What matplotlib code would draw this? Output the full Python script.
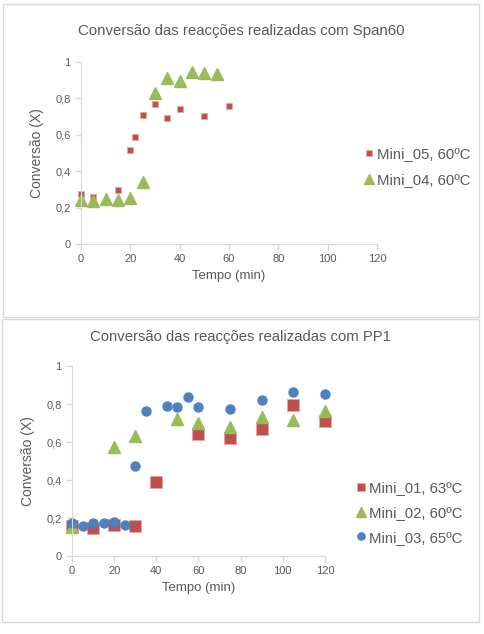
import matplotlib
matplotlib.use("Agg")
import matplotlib.pyplot as plt
from matplotlib.patches import Rectangle
from matplotlib.ticker import FuncFormatter

plt.rcParams['font.family'] = ['Liberation Sans', 'DejaVu Sans']

# chart 1 - Span60
t_m05 = [0, 5, 15, 20, 22, 25, 30, 35, 40, 50, 60]
x_m05 = [0.274, 0.258, 0.294, 0.517, 0.59, 0.709, 0.768, 0.693, 0.74, 0.704, 0.76]
t_m04 = [0, 5, 10, 15, 20, 25, 30, 35, 40, 45, 50, 55]
x_m04 = [0.24, 0.238, 0.247, 0.243, 0.254, 0.338, 0.83, 0.91, 0.894, 0.943, 0.94, 0.932]

# chart 2 - PP1
t_m01 = [0, 10, 20, 30, 40, 60, 75, 90, 105, 120]
x_m01 = [0.159, 0.148, 0.165, 0.157, 0.389, 0.643, 0.622, 0.671, 0.793, 0.709]
t_m02 = [0, 20, 30, 50, 60, 75, 90, 105, 120]
x_m02 = [0.154, 0.574, 0.634, 0.72, 0.70, 0.68, 0.729, 0.715, 0.764]
t_m03 = [0, 5, 10, 15, 20, 25, 30, 35, 45, 50, 55, 60, 75, 90, 105, 120]
x_m03 = [0.175, 0.156, 0.172, 0.174, 0.177, 0.163, 0.476, 0.765, 0.79, 0.785, 0.835, 0.785,
         0.772, 0.82, 0.862, 0.855]

RED = '#C0504D'
GREEN = '#9BBB59'
BLUE = '#4F81BD'
GREY = '#595959'
AXC = '#D9D9D9'

W, H = 484, 634
fig = plt.figure(figsize=(W / 100, H / 100), dpi=100)

# chart borders
fig.add_artist(Rectangle((3 / W, 1 - 317 / H), 476 / W, 313 / H, transform=fig.transFigure,
                         fill=False, edgecolor=AXC, lw=1))
fig.add_artist(Rectangle((2 / W, 1 - 622 / H), 477 / W, 303 / H, transform=fig.transFigure,
                         fill=False, edgecolor=AXC, lw=1))

comma = FuncFormatter(lambda v, p: ('%g' % v).replace('.', ','))


def style(ax):
    ax.set_xlim(0, 120)
    ax.set_ylim(0, 1)
    ax.set_xticks(range(0, 121, 20))
    ax.set_yticks([0, 0.2, 0.4, 0.6, 0.8, 1])
    ax.yaxis.set_major_formatter(comma)
    for s in ['top', 'right']:
        ax.spines[s].set_visible(False)
    for s in ['left', 'bottom']:
        ax.spines[s].set_color(AXC)
    ax.tick_params(colors=AXC, labelcolor=GREY, labelsize=8, length=4, width=1)
    ax.set_xlabel('Tempo (min)', color=GREY, fontsize=9.5, labelpad=4)
    ax.set_ylabel('Conversão (X)', color=GREY, fontsize=10, labelpad=8)
    ax.patch.set_alpha(0)


# top chart
ax1 = fig.add_axes([81 / W, 1 - 244 / H, 296 / W, 182 / H])
l1, = ax1.plot(t_m05, x_m05, 's', color=RED, ms=5, mec='#E6A5A3', mew=0.6,
               label='Mini_05, 60ºC', clip_on=False)
l2, = ax1.plot(t_m04, x_m04, '^', color=GREEN, ms=8.5, mec=GREEN,
               label='Mini_04, 60ºC', clip_on=False)
style(ax1)
fig.text(241 / W, 1 - 31 / H, 'Conversão das reacções realizadas com Span60',
         ha='center', va='center', color=GREY, fontsize=10.8)
fig.legend(handles=[l1, l2], loc='center left', bbox_to_anchor=(361 / W, 1 - 167 / H),
           frameon=False, fontsize=10.7, labelcolor=GREY, handletextpad=0.0,
           handlelength=1.1, labelspacing=0.8, borderaxespad=0, borderpad=0,
           markerscale=0.85)

# bottom chart
ax2 = fig.add_axes([72 / W, 1 - 556 / H, 253 / W, 190 / H])
m1, = ax2.plot(t_m01, x_m01, 's', color=RED, ms=8, mec='#E6A5A3', mew=0.6,
               label='Mini_01, 63ºC', clip_on=False)
m2, = ax2.plot(t_m02, x_m02, '^', color=GREEN, ms=8.5, label='Mini_02, 60ºC', clip_on=False)
m3, = ax2.plot(t_m03, x_m03, 'o', color=BLUE, ms=6.5, label='Mini_03, 65ºC', clip_on=False)
style(ax2)
fig.text(240 / W, 1 - 337 / H, 'Conversão das reacções realizadas com PP1',
         ha='center', va='center', color=GREY, fontsize=10.7)
fig.legend(handles=[m1, m2, m3], loc='center left', bbox_to_anchor=(353 / W, 1 - 513 / H),
           frameon=False, fontsize=10.7, labelcolor=GREY, handletextpad=0.0,
           handlelength=1.1, labelspacing=0.72, borderaxespad=0, borderpad=0,
           markerscale=0.8)

fig.savefig('out.png', dpi=100)
